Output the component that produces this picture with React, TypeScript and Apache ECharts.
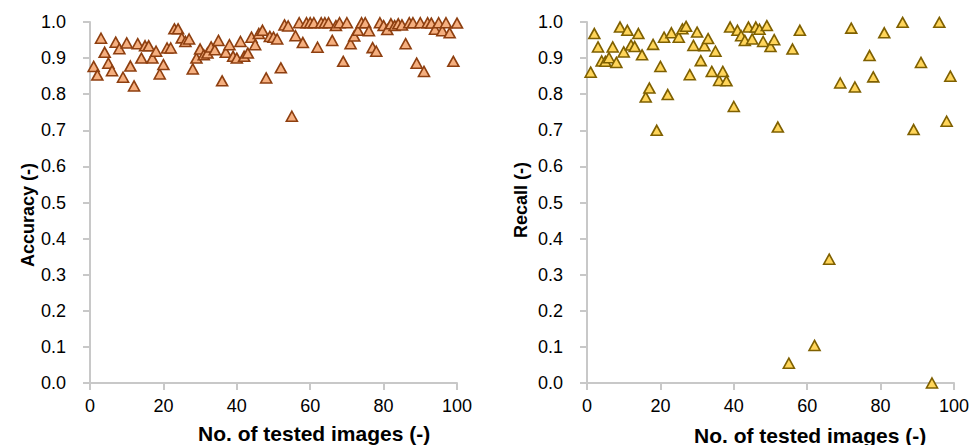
import React, { useEffect, useRef } from "react";
import * as echarts from "echarts";

// Left panel: accuracy per tested image (x = image number)
const accuracyX: number[] = [
  1, 2, 3, 4, 5, 6, 7, 8, 9, 10, 11, 12, 13, 14, 15, 16, 17, 18, 19, 20,
  21, 22, 23, 24, 25, 26, 27, 28, 29, 30, 31, 32, 33, 34, 35, 36, 37, 38, 39, 40,
  41, 42, 43, 44, 45, 46, 47, 48, 49, 50, 51, 52, 53, 54, 55, 56, 57, 58, 59, 60,
  61, 62, 63, 64, 65, 66, 67, 68, 69, 70, 71, 72, 73, 74, 75, 76, 77, 78, 79, 80,
  81, 82, 83, 84, 85, 86, 87, 88, 89, 90, 91, 92, 93, 94, 95, 96, 97, 98, 99, 100,
];
const accuracyY: number[] = [
  0.877, 0.853, 0.955, 0.916, 0.886, 0.865, 0.944, 0.926, 0.847, 0.942,
  0.878, 0.823, 0.94, 0.9, 0.934, 0.934, 0.9, 0.919, 0.856, 0.882,
  0.928, 0.928, 0.981, 0.981, 0.956, 0.946, 0.953, 0.87, 0.9, 0.925,
  0.909, 0.914, 0.931, 0.923, 0.949, 0.837, 0.916, 0.937, 0.905, 0.9,
  0.946, 0.905, 0.914, 0.958, 0.937, 0.968, 0.977, 0.845, 0.96, 0.958,
  0.953, 0.873, 0.992, 0.989, 0.739, 0.962, 0.998, 0.943, 0.998, 0.998,
  0.998, 0.93, 0.998, 0.998, 0.998, 0.949, 0.99, 0.998, 0.891, 0.998,
  0.94, 0.961, 0.977, 0.998, 0.998, 0.976, 0.929, 0.919, 0.998, 0.99,
  0.979, 0.995, 0.99, 0.995, 0.992, 0.94, 0.998, 0.998, 0.886, 0.998,
  0.863, 0.998, 0.997, 0.98, 0.998, 0.976, 0.998, 0.97, 0.891, 0.997,
];

// Right panel: recall per tested image
const recallX: number[] = [
  1, 2, 3, 4, 5, 6, 7, 8, 9, 10, 11, 12, 13, 14, 15, 16, 17, 18, 19, 20,
  21, 22, 23, 25, 26, 27, 28, 29, 30, 31, 32, 33, 34, 35, 36, 37, 38, 39, 40,
  41, 42, 43, 44, 45, 46, 47, 48, 49, 50, 51, 52, 55, 56, 58, 62, 66, 69, 72,
  73, 77, 78, 81, 86, 89, 91, 94, 96, 98, 99,
];
const recallY: number[] = [
  0.861, 0.968, 0.931, 0.892, 0.891, 0.901, 0.931, 0.888, 0.986, 0.917,
  0.977, 0.936, 0.932, 0.968, 0.909, 0.792, 0.817, 0.938, 0.7, 0.877,
  0.958, 0.799, 0.97, 0.958, 0.981, 0.988, 0.854, 0.935, 0.972, 0.893,
  0.934, 0.954, 0.863, 0.919, 0.838, 0.863, 0.837, 0.986, 0.766,
  0.977, 0.962, 0.949, 0.986, 0.953, 0.986, 0.98, 0.946, 0.99, 0.932,
  0.951, 0.709, 0.055, 0.925, 0.977, 0.104, 0.343, 0.831, 0.983,
  0.82, 0.907, 0.848, 0.97, 0.999, 0.702, 0.888, 0.0, 0.999, 0.725, 0.85,
];

const xTicks = { min: 0, max: 100, interval: 20 };
const yTicks = { min: 0, max: 1, interval: 0.1 };

const yTitles: string[] = ["Accuracy (-)", "Recall (-)"];
const xTitle = "No. of tested images (-)";

const FONT = 'Arial, "Liberation Sans", sans-serif';
const AXIS_GRAY = "#C8C8C8";

export default function App() {
  const ref = useRef<HTMLDivElement | null>(null);

  useEffect(() => {
    if (!ref.current) return;
    const chart = echarts.init(ref.current, null, { renderer: "svg" });

    const axisCommon = {
      axisLine: { show: true, lineStyle: { color: AXIS_GRAY, width: 2 } },
      axisTick: { show: true, inside: false, length: 7, lineStyle: { color: AXIS_GRAY, width: 2 } },
      splitLine: { show: false },
    };

    const xAxis = [0, 1].map((i) => ({
      type: "value",
      gridIndex: i,
      min: xTicks.min,
      max: xTicks.max,
      interval: xTicks.interval,
      ...axisCommon,
      axisLabel: { color: "#000", fontSize: 18, fontFamily: FONT, margin: 14 },
    }));
    const yAxis = [0, 1].map((i) => ({
      type: "value",
      gridIndex: i,
      min: yTicks.min,
      max: yTicks.max,
      interval: yTicks.interval,
      ...axisCommon,
      axisLabel: {
        color: "#000",
        fontSize: 18,
        fontFamily: FONT,
        margin: 24,
        formatter: (v: number) => v.toFixed(1),
      },
    }));

    const option = {
      animation: false,
      backgroundColor: "#fff",
      grid: [
        { left: 90, right: 521, top: 22, bottom: 62 },
        { left: 587, right: 24, top: 22, bottom: 62 },
      ],
      xAxis,
      yAxis,
      series: [
        {
          type: "scatter",
          xAxisIndex: 0,
          yAxisIndex: 0,
          symbol: "triangle",
          symbolSize: [11, 10],
          itemStyle: { color: "#F5AF7F", borderColor: "#8E3F10", borderWidth: 1.6, opacity: 1 },
          data: accuracyX.map((x, i) => [x, accuracyY[i]]),
        },
        {
          type: "scatter",
          xAxisIndex: 1,
          yAxisIndex: 1,
          symbol: "triangle",
          symbolSize: [11, 10],
          itemStyle: { color: "#FFD55A", borderColor: "#7F6000", borderWidth: 1.6, opacity: 1 },
          data: recallX.map((x, i) => [x, recallY[i]]),
        },
      ],
      graphic: [
        {
          type: "text",
          x: 28,
          y: 215,
          rotation: Math.PI / 2,
          style: {
            text: yTitles[0],
            font: `bold 18px ${FONT}`,
            fill: "#000",
            textAlign: "center",
            textVerticalAlign: "middle",
          },
        },
        {
          type: "text",
          x: 521,
          y: 200,
          rotation: Math.PI / 2,
          style: {
            text: yTitles[1],
            font: `bold 18px ${FONT}`,
            fill: "#000",
            textAlign: "center",
            textVerticalAlign: "middle",
          },
        },
        {
          type: "text",
          x: 198,
          y: 433,
          style: {
            text: xTitle,
            font: `bold 21px ${FONT}`,
            fill: "#000",
            textAlign: "left",
            textVerticalAlign: "middle",
          },
        },
        {
          type: "text",
          x: 694,
          y: 435,
          style: {
            text: xTitle,
            font: `bold 21px ${FONT}`,
            fill: "#000",
            textAlign: "left",
            textVerticalAlign: "middle",
          },
        },
      ],
    };

    chart.setOption(option as any);
    return () => chart.dispose();
  }, []);

  return (
    <div
      ref={ref}
      style={{ position: "fixed", left: 0, top: 0, width: 978, height: 445, background: "#fff" }}
    />
  );
}
